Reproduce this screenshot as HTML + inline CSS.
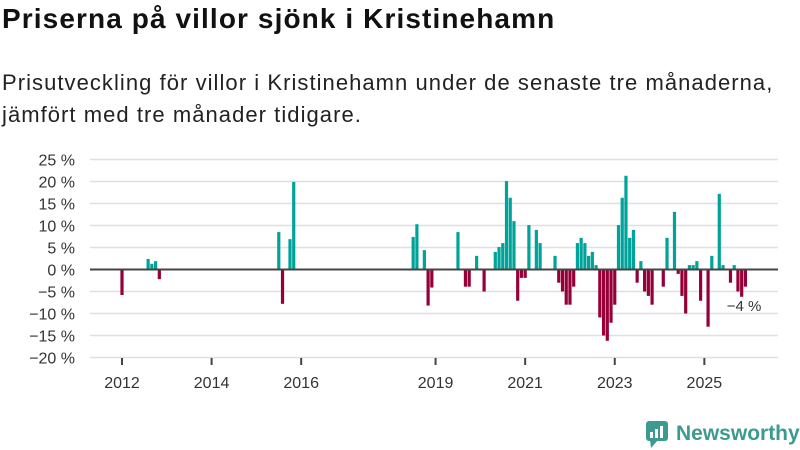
<!DOCTYPE html>
<html><head><meta charset="utf-8">
<style>
body{margin:0;width:800px;height:450px;background:#fff;font-family:"Liberation Sans",sans-serif;overflow:hidden;position:relative}
h1{position:absolute;left:2px;top:3px;margin:0;font-size:28px;letter-spacing:1.1px;font-weight:bold;color:#111}
.sub{position:absolute;left:2px;top:67px;margin:0;font-size:22px;letter-spacing:1.05px;line-height:32px;color:#222}
svg{position:absolute;left:0;top:0}
</style></head><body>
<h1>Priserna på villor sjönk i Kristinehamn</h1>
<p class="sub">Prisutveckling för villor i Kristinehamn under de senaste tre månaderna,<br>jämfört med tre månader tidigare.</p>
<svg width="800" height="450" id="chart">
<g id="grid"></g><g id="bars"></g><g id="axes"></g>
<g>
<rect x="646" y="421" width="22" height="20" rx="3" fill="#3d9a8f"/>
<polygon points="650,440 658,440 651,448" fill="#3d9a8f"/>
<rect x="650" y="432" width="3" height="6" fill="#fff"/><rect x="655" y="429" width="3" height="9" fill="#fff"/><rect x="660" y="426" width="3" height="12" fill="#fff"/>
<text x="676" y="440" font-size="21" font-family="Liberation Sans" fill="#3d9a8f" font-weight="bold">Newsworthy</text>
</g>
</svg>
<script>
// month index from Jan 2012
const months=[0,7,8,9,10,42,43,45,46,78,79,81,82,83,90,92,93,95,97,100,101,102,103,104,105,106,107,108,109,111,112,116,117,118,119,120,121,122,123,124,125,126,127,128,129,130,131,132,133,134,135,136,137,138,139,140,141,142,145,146,148,149,150,151,152,153,154,155,157,158,160,161,163,164,165,166,167];
const values=[-5.8,2.4,1.3,1.9,-2.2,8.5,-7.8,6.9,19.9,7.4,10.3,4.4,-8.2,-4.1,8.5,-3.9,-3.9,3.1,-5.0,4.0,5.1,6.0,20.1,16.3,11.0,-7.1,-1.9,-1.9,10.1,9.0,6.0,3.1,-3.0,-5.0,-8.0,-8.0,-3.9,6.0,7.2,6.0,3.1,4.0,1.0,-10.9,-15.0,-16.2,-12.1,-8.0,10.1,16.3,21.3,7.2,9.0,-3.0,1.9,-5.0,-6.0,-8.0,-3.9,7.2,13.1,-1.0,-6.0,-10.0,1.0,1.0,1.9,-7.1,-13.0,3.1,17.2,1.0,-3.0,1.0,-5.0,-6.2,-3.9];
const yTicks=[25,20,15,10,5,0,-5,-10,-15,-20];
const xTickYears=[2012,2014,2016,2019,2021,2023,2025];
const NS='http://www.w3.org/2000/svg';
const y=v=>269.5-v*4.4;
const x=m=>122+m*3.733;
function mk(t,a,p){const e=document.createElementNS(NS,t);for(const k in a)e.setAttribute(k,a[k]);p.appendChild(e);return e;}
const grid=document.getElementById('grid'),bars=document.getElementById('bars'),axes=document.getElementById('axes');
yTicks.forEach(v=>{
  const l=mk('line',{x1:90,x2:778,y1:y(v),y2:y(v),stroke:'#e0e0e0','stroke-width':1.5},grid);
  
  
  const t=mk('text',{x:75,y:y(v)+6,'text-anchor':'end','font-size':16,fill:'#333'},axes);
  t.textContent=(v<0?'−'+(-v):v)+' %';
  
  
});
months.forEach((m,i)=>{
  const v=values[i];
  const r=mk('rect',{x:x(m)-1.6,width:3.2,y:Math.min(y(v),y(0)),height:Math.abs(y(v)-y(0)),fill:v>=0?'#00a39a':'#960039'},bars);
  
  
});
const z=mk('line',{x1:90,x2:778,y1:y(0),y2:y(0),stroke:'#444','stroke-width':2},axes);


xTickYears.forEach(yr=>{
  const xx=x((yr-2012)*12);
  const tk=mk('line',{x1:xx,x2:xx,y1:358,y2:365,stroke:'#444','stroke-width':2},axes);
  
  
  const t=mk('text',{x:xx,y:388,'text-anchor':'middle','font-size':16,fill:'#333'},axes);
  t.textContent=yr;
  
  
});
const last=values[values.length-1];
const lb=mk('text',{x:744,y:311,'text-anchor':'middle','font-size':15,fill:'#333',stroke:'#fff','stroke-width':3,'paint-order':'stroke'},axes);
lb.textContent='−'+Math.round(Math.abs(last))+' %';


</script>
</body></html>
